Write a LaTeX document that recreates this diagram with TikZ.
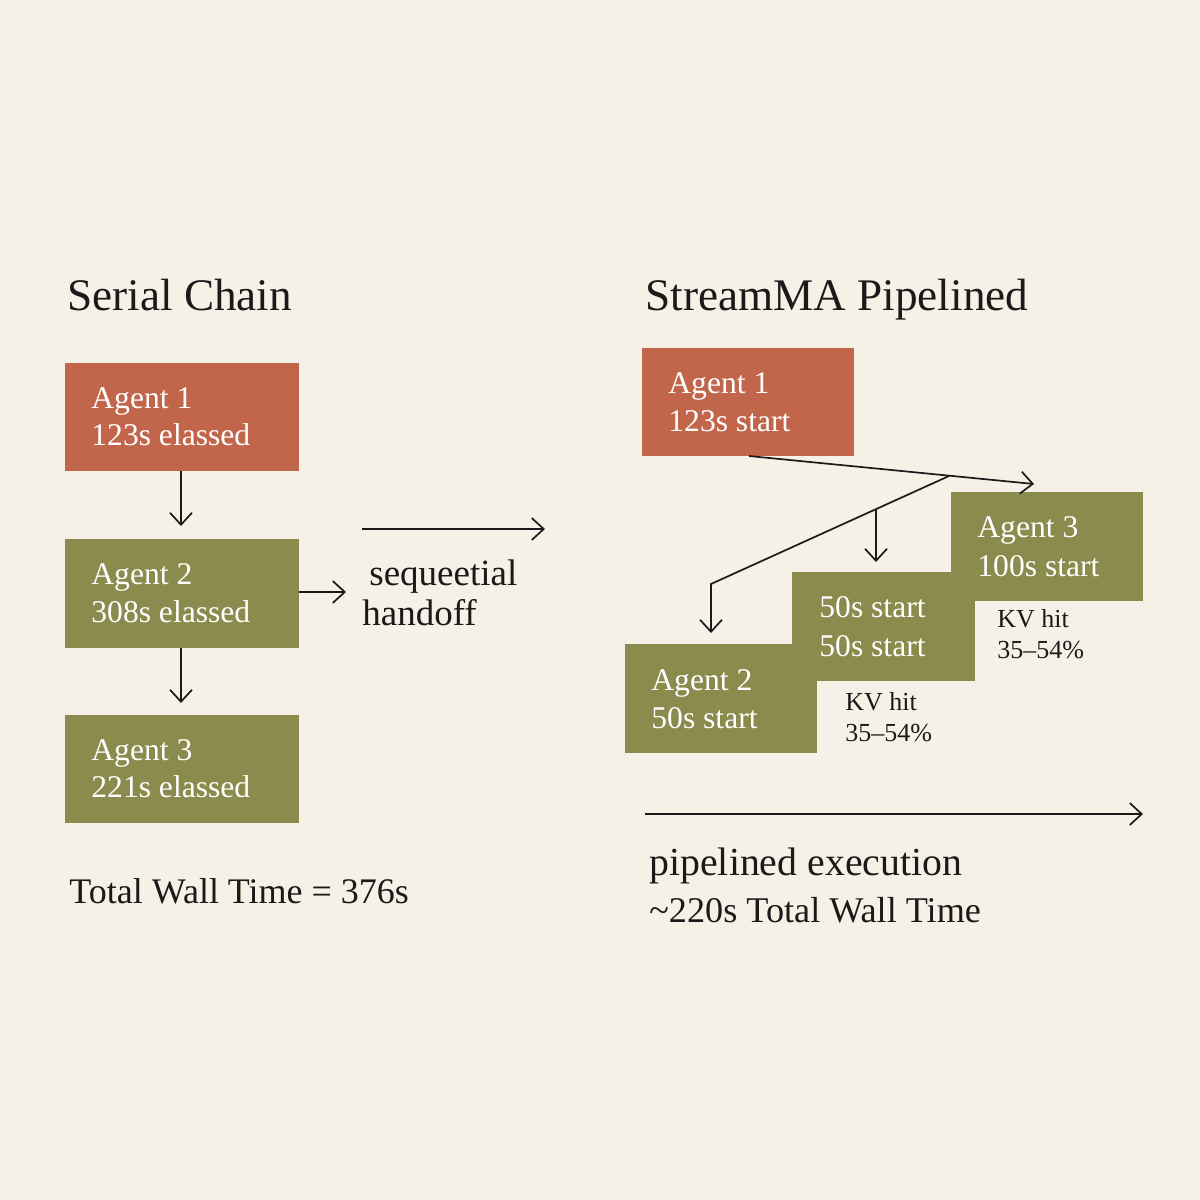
\documentclass[tikz,border=0pt]{standalone}
\usepackage{fontspec}
\setmainfont{Liberation Serif}
\usetikzlibrary{arrows.meta}
\definecolor{bg}{HTML}{F5F1E6}
\definecolor{rust}{HTML}{C1664B}
\definecolor{olive}{HTML}{8B8B4E}
\definecolor{ink}{HTML}{1A1A1A}
\tikzset{
  boxr/.style={fill=rust,draw=none},
  boxo/.style={fill=olive,draw=none},
  btxt/.style={anchor=base west,inner sep=0pt,text=white,font=\fontsize{15.8}{18}\selectfont},
  ktxt/.style={anchor=base west,inner sep=0pt,text=ink,font=\fontsize{13}{15}\selectfont},
  ttl/.style={anchor=base west,inner sep=0pt,text=ink,font=\fontsize{22.6}{26}\selectfont},
  lbl/.style={anchor=base west,inner sep=0pt,text=ink},
  arr/.style={draw=ink,line width=0.85pt,-{Straight Barb[length=6pt,width=11pt,line width=0.85pt]}},
}
\begin{document}
\begin{tikzpicture}[x=0.5pt,y=-0.5pt]
\fill[bg] (0,0) rectangle (1200,1200);
\useasboundingbox (0,0) rectangle (1200,1200);

% ---------- left: serial chain ----------
\node[ttl] (tl) at (67,310) {Serial Chain};
\path[boxr] (65,363) rectangle (299,471);
\coordinate (l1s) at (181,471);
\path[boxo] (65,539) rectangle (299,648);
\coordinate (l2s) at (181,648);
\coordinate (l2e) at (299,592);
\path[boxo] (65,715) rectangle (299,823);
\node[btxt] (l1a) at (91,408) {Agent 1};
\node[btxt] (l1b) at (91,445) {123s elassed};
\node[btxt] (l2a) at (91,584) {Agent 2};
\node[btxt] (l2b) at (91,622) {308s elassed};
\node[btxt] (l3a) at (91,760) {Agent 3};
\node[btxt] (l3b) at (91,797) {221s elassed};
\coordinate (l1t) at (181,526);
\coordinate (l2t) at (181,703);
\draw[arr] (l1s) -- (l1t);
\draw[arr] (l2s) -- (l2t);
\coordinate (hte) at (346,592);
\draw[arr] (l2e) -- (hte);
\coordinate (sa) at (362,529);
\coordinate (sb) at (545,529);
\draw[arr] (sa) -- (sb);
\node[lbl,font=\fontsize{18.5}{21}\selectfont] (seq) at (369,585) {sequeetial};
\node[lbl,font=\fontsize{18.5}{21}\selectfont] (hand) at (362,625) {handoff};
\node[lbl,font=\fontsize{18}{20}\selectfont] (tot) at (69,903) {Total Wall Time = 376s};

% ---------- right: pipelined ----------
\node[ttl] (tr) at (645,310) {StreamMA Pipelined};
\path[boxr] (642,348) rectangle (854,456);
\path[boxo] (951,492) rectangle (1143,601);
\path[boxo] (792,572) rectangle (975,681);
\path[boxo] (625,644) rectangle (817,753);
\node[btxt] (r1a) at (668,393) {Agent 1};
\node[btxt] (r1b) at (668,431) {123s start};
\node[btxt] (r3a) at (977,537) {Agent 3};
\node[btxt] (r3b) at (977,576) {100s start};
\node[btxt] (rma) at (819,617) {50s start};
\node[btxt] (rmb) at (819,656) {50s start};
\node[btxt] (r2a) at (651,690) {Agent 2};
\node[btxt] (r2b) at (651,728) {50s start};
\node[ktxt] (k1a) at (997,627) {KV hit};
\node[ktxt] (k1b) at (997,658) {35–54\%};
\node[ktxt] (k2a) at (845,710) {KV hit};
\node[ktxt] (k2b) at (845,741) {35–54\%};

\coordinate (r1s) at (749,456);
\coordinate (r3t) at (1034,484);
\draw[arr] (r1s) -- (r3t);
\coordinate (dg0) at (949,476);
\coordinate (dg1) at (711,584);
\coordinate (r2t) at (711,633);
\draw[arr] (dg0) -- (dg1) -- (r2t);
\coordinate (dm) at (876,509);
\coordinate (rmt) at (876,562);
\draw[arr] (dm) -- (rmt);

\coordinate (pa) at (645,814);
\coordinate (pb) at (1143,814);
\draw[arr] (pa) -- (pb);
\node[lbl,font=\fontsize{19.9}{24}\selectfont] (pe) at (649,875) {pipelined execution};
\node[lbl,font=\fontsize{18.1}{21}\selectfont] (pt) at (649,922) {\textasciitilde220s Total Wall Time};
\end{tikzpicture}
\end{document}
